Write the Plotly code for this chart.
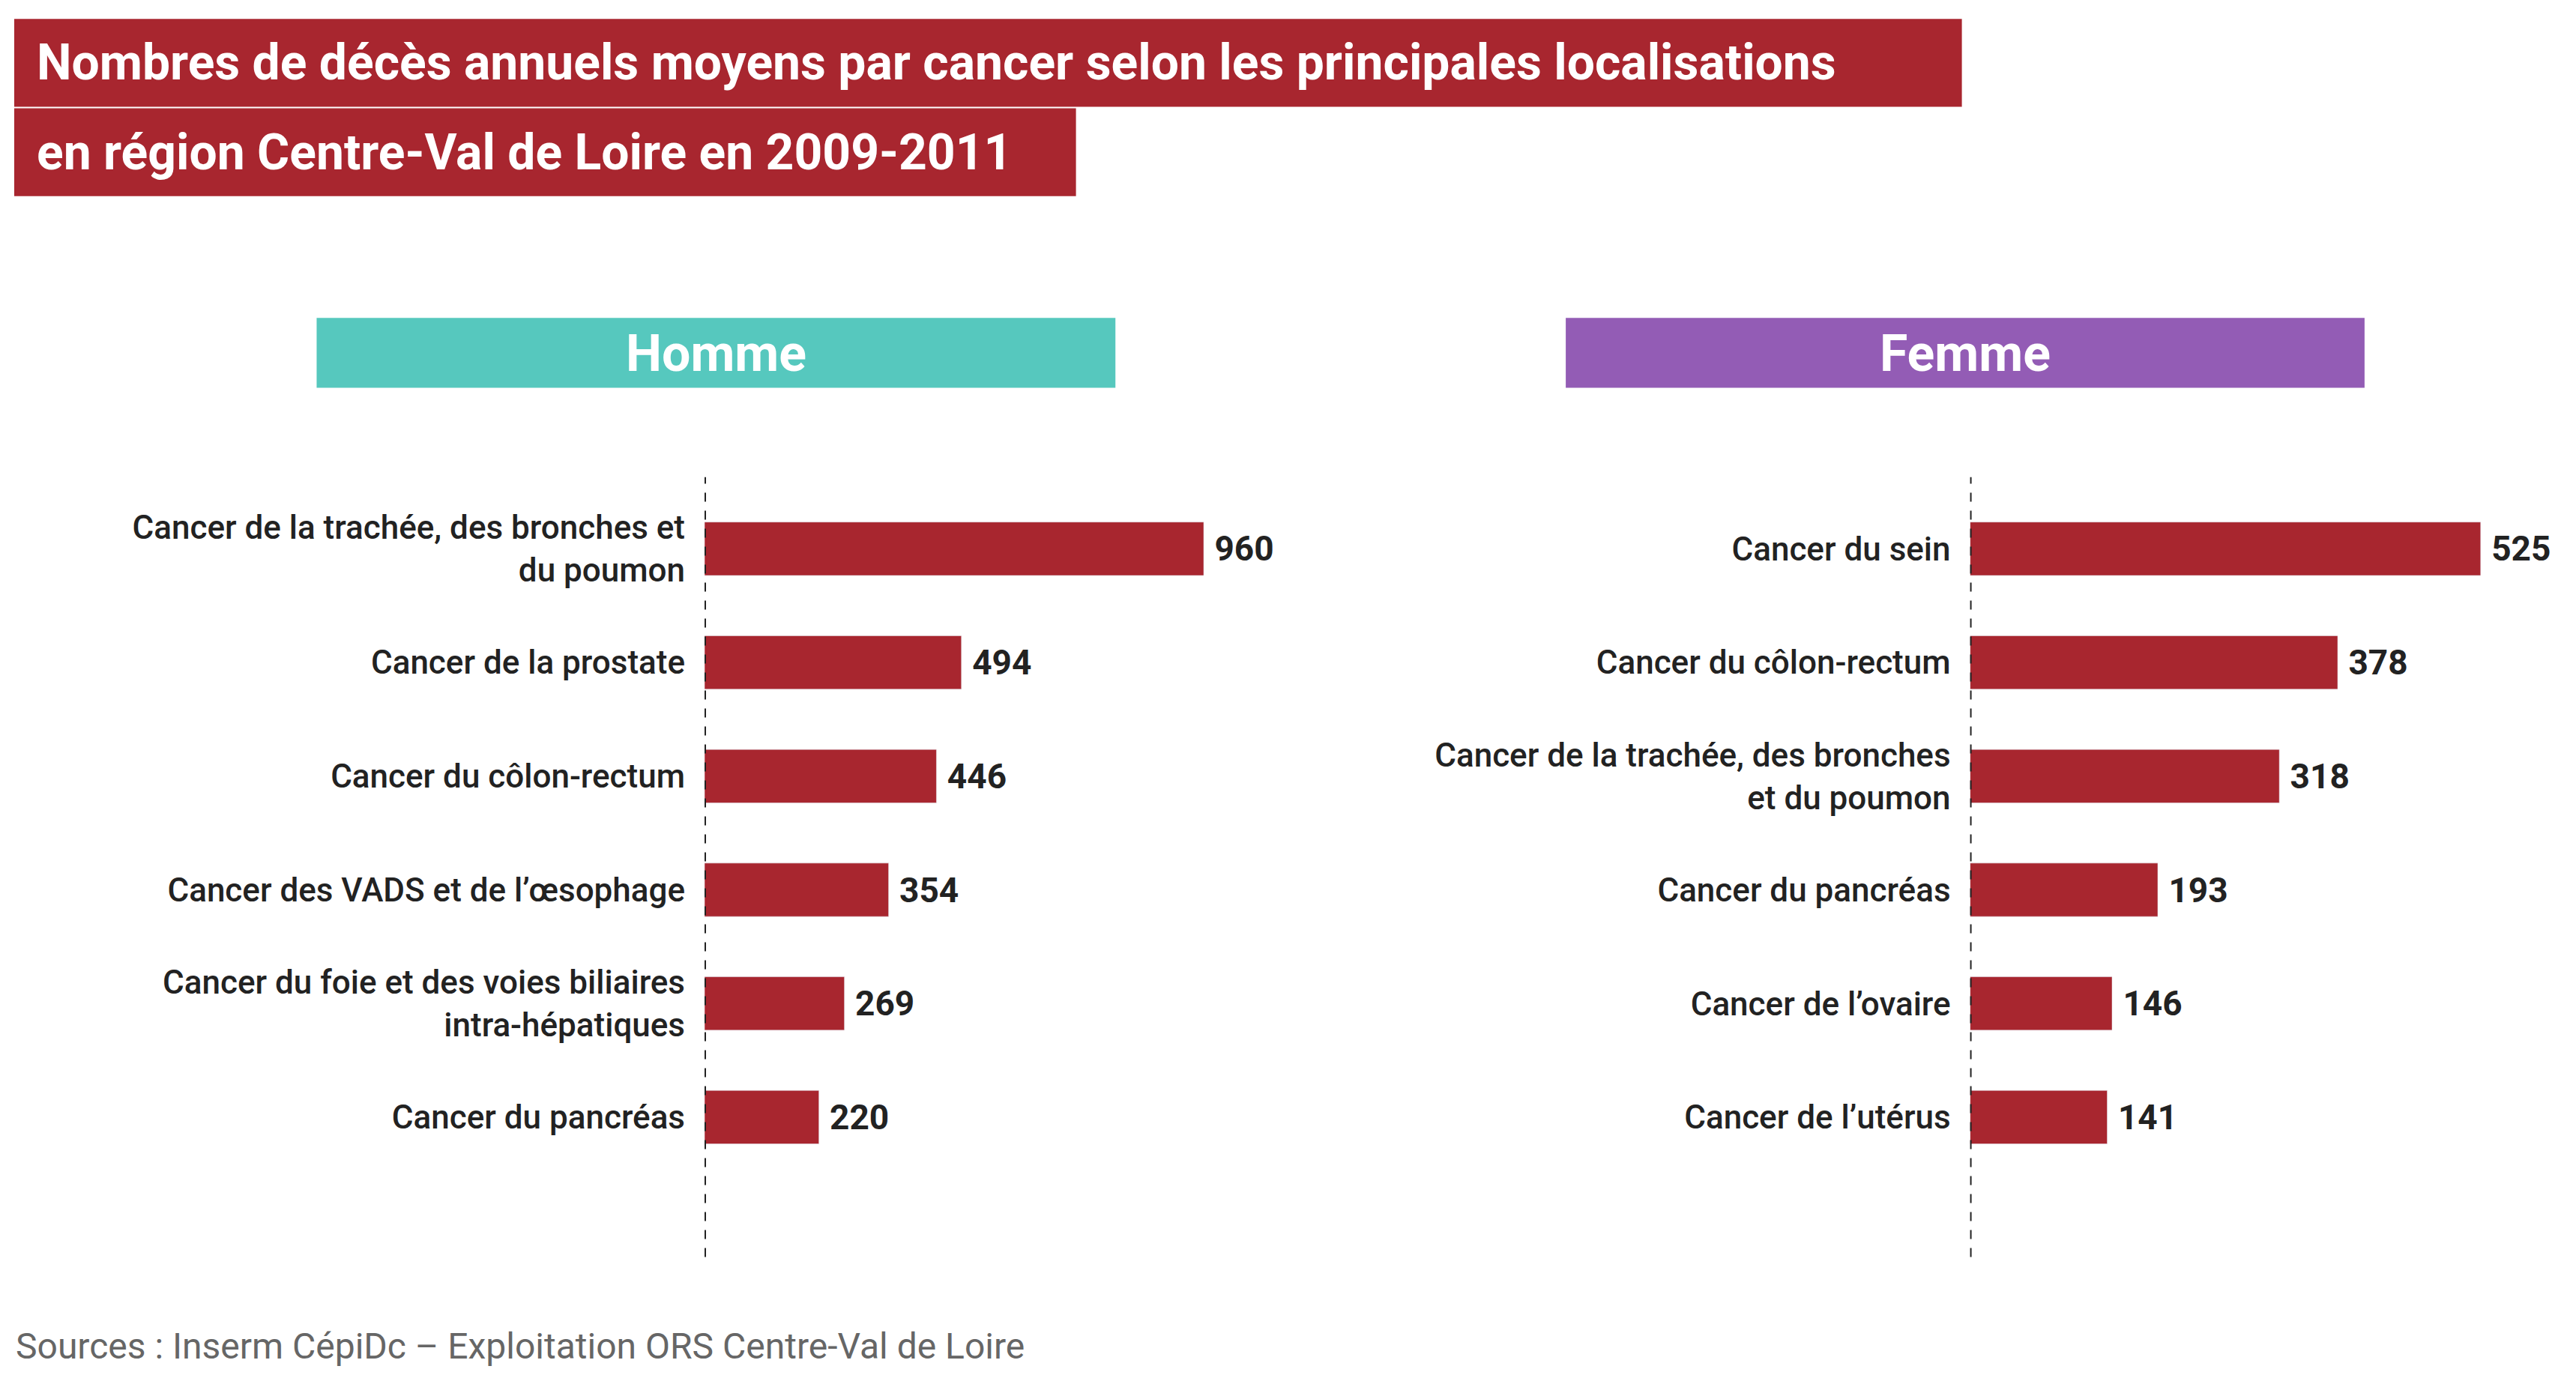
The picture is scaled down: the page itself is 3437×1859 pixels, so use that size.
import plotly.graph_objects as go

hom_labels = ["Cancer de la trachée, des bronches et<br>du poumon", "Cancer de la prostate", "Cancer du côlon-rectum",
              "Cancer des VADS et de l’œsophage", "Cancer du foie et des voies biliaires<br>intra-hépatiques", "Cancer du pancréas"]
hom_vals = [960, 494, 446, 354, 269, 220]
fem_labels = ["Cancer du sein", "Cancer du côlon-rectum", "Cancer de la trachée, des bronches<br>et du poumon",
              "Cancer du pancréas", "Cancer de l’ovaire", "Cancer de l’utérus"]
fem_vals = [525, 378, 318, 193, 146, 141]

W, H = 1560, 850
def px(x): return x / W
def py(y): return 1 - y / H

FONT = "Roboto, sans-serif"
RED = "#A8262F"
fig = go.Figure()
for i, (labs, vals) in enumerate([(hom_labels, hom_vals), (fem_labels, fem_vals)]):
    fig.add_trace(go.Bar(x=vals, y=labs, orientation="h", marker_color=RED, width=0.47,
                         text=["<b> " + str(v) + "</b>" for v in vals], textposition="outside", cliponaxis=False,
                         textfont=dict(family=FONT, size=46, color="#222"),
                         xaxis="x" if i == 0 else "x2", yaxis="y" if i == 0 else "y2", showlegend=False))

ax = dict(showgrid=False, zeroline=False, showticklabels=False, ticks="")
ya = dict(showgrid=False, zeroline=False, range=[6.23, -0.63], ticks="", ticklabelstandoff=25,
          tickfont=dict(family=FONT, size=44, color="#222", weight=500))
fig.update_layout(
    margin=dict(l=0, r=0, t=0, b=0), plot_bgcolor="white", paper_bgcolor="white",
    xaxis=dict(ax, domain=[px(425), px(773)], range=[0, 1100]),
    xaxis2=dict(ax, domain=[px(1195), px(1550)], range=[0, 600]),
    yaxis=dict(ya, domain=[py(770), py(290)], anchor="x"),
    yaxis2=dict(ya, domain=[py(770), py(290)], anchor="x2"),
)
for xr in ["x", "x2"]:
    fig.add_shape(type="line", xref=xr, yref="paper", x0=0, x1=0, y0=py(770), y1=py(290),
                  line=dict(color="#222", width=4, dash="dash"))

fig.add_shape(type="rect", xref="paper", yref="paper", x0=px(5), x1=px(1190), y0=py(62), y1=py(8), fillcolor=RED, line_width=0)
fig.add_shape(type="rect", xref="paper", yref="paper", x0=px(5), x1=px(651), y0=py(117), y1=py(63), fillcolor=RED, line_width=0)
fig.add_annotation(xref="paper", yref="paper", x=px(18), y=py(35), xanchor="left", yanchor="middle", showarrow=False,
                   text="<b>Nombres de décès annuels moyens par cancer selon les principales localisations</b>",
                   font=dict(family=FONT, size=66, color="white"))
fig.add_annotation(xref="paper", yref="paper", x=px(18), y=py(90), xanchor="left", yanchor="middle", showarrow=False,
                   text="<b>en région Centre-Val de Loire en 2009-2011</b>", font=dict(family=FONT, size=66, color="white"))
for x0, x1, col, t in [(189, 675, "#56C8BE", "Homme"), (949, 1435, "#935CB5", "Femme")]:
    fig.add_shape(type="rect", xref="paper", yref="paper", x0=px(x0), x1=px(x1), y0=py(235), y1=py(192), fillcolor=col, line_width=0)
    fig.add_annotation(xref="paper", yref="paper", x=px((x0 + x1) / 2), y=py(214), xanchor="center", yanchor="middle",
                       showarrow=False, text="<b>" + t + "</b>",
                       font=dict(family=FONT, size=68, color="white"))
fig.add_annotation(xref="paper", yref="paper", x=px(5), y=py(825), xanchor="left", yanchor="middle", showarrow=False,
                   text="Sources : Inserm CépiDc – Exploitation ORS Centre-Val de Loire", font=dict(family=FONT, size=48, color="#666"))
fig.write_html("out.html")
